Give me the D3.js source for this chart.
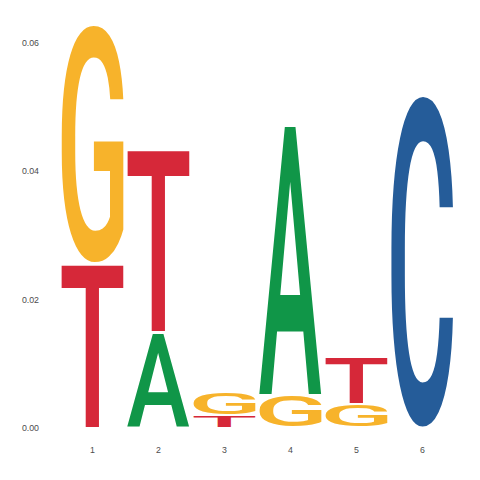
<!DOCTYPE html>
<html><head><meta charset="utf-8">
<script src="https://cdn.jsdelivr.net/npm/d3@7"></script>
<style>body{margin:0;background:#fff}</style>
</head><body>
<svg id="chart" width="480" height="480"></svg>
<script>
const positions = [1, 2, 3, 4, 5, 6];
const bases = ["A", "C", "G", "T"];
const valA = [0, 0.0149, 0, 0.04245, 0, 0];
const valC = [0, 0, 0, 0, 0, 0.05165];
const valG = [0.03706, 0, 0.0036, 0.0051, 0.0037, 0];
const valT = [0.02567, 0.02864, 0.0019, 0, 0.0074, 0];
const yTicks = [0, 0.02, 0.04, 0.06];
const colors = {A: "#109648", C: "#255C99", G: "#F7B32B", T: "#D62839"};

const series = {A: valA, C: valC, G: valG, T: valT};
const FAMILY = "Roboto";
const WEIGHT = 500;
const FONT = `${WEIGHT} 100px '${FAMILY}'`;

const svg = d3.select("#chart");
const x = d3.scaleBand().domain(positions).range([59.5, 455.5]).paddingInner(0.06).paddingOuter(0.03);
const y = d3.scaleLinear().domain([0, 0.06]).range([427.5, 43]);

// axes (text only)
const yAxis = svg.append("g").attr("transform", "translate(42,0)")
  .call(d3.axisLeft(y).tickValues(yTicks).tickFormat(d3.format(".2f")).tickSize(0).tickPadding(3));
const xAxis = svg.append("g").attr("transform", "translate(0,443)")
  .call(d3.axisBottom(x).tickSize(0).tickPadding(4));
[yAxis, xAxis].forEach(g => {
  g.select(".domain").remove();
  g.selectAll("text").attr("font-family", "'Liberation Sans', Arial, sans-serif").attr("font-size", 8.8).attr("fill", "#4D4D4D");
});

function draw() {
  // measure tight glyph bounds by scanning canvas pixels
  const S = 200;
  const cv = document.createElement("canvas");
  cv.width = S; cv.height = S;
  const ctx = cv.getContext("2d");
  ctx.font = FONT;
  const metrics = {};
  bases.forEach(b => {
    ctx.clearRect(0, 0, S, S);
    ctx.fillStyle = "#000";
    ctx.fillText(b, 50, 150);
    const data = ctx.getImageData(0, 0, S, S).data;
    let minX = S, maxX = -1, minY = S, maxY = -1;
    for (let yy = 0; yy < S; yy++) for (let xx = 0; xx < S; xx++) {
      if (data[(yy * S + xx) * 4 + 3] > 60) {
        if (xx < minX) minX = xx; if (xx > maxX) maxX = xx;
        if (yy < minY) minY = yy; if (yy > maxY) maxY = yy;
      }
    }
    metrics[b] = {l: 50 - minX, r: maxX + 1 - 50, a: 150 - minY, d: maxY + 1 - 150};
  });

  const stacks = [];
  positions.forEach((p, i) => {
    const items = bases.map(b => ({b, v: series[b][i]})).filter(d => d.v > 0).sort((a, b) => a.v - b.v);
    let cum = 0;
    items.forEach(d => { stacks.push({p, b: d.b, y0: cum, y1: cum + d.v}); cum += d.v; });
  });

  svg.append("g").selectAll("text.letter").data(stacks).join("text")
    .attr("class", "letter")
    .text(d => d.b)
    .attr("font-family", `'${FAMILY}'`)
    .attr("font-weight", WEIGHT)
    .attr("font-size", 100)
    .attr("fill", d => colors[d.b])
    .attr("transform", d => {
      const m = metrics[d.b];
      const bw = m.l + m.r, bh = m.a + m.d;
      const x0 = x(d.p), w = x.bandwidth();
      const top = y(d.y1) + 0.8, bot = y(d.y0) - 0.8;
      const h = Math.max(bot - top, 0.1);
      return `translate(${x0},${top}) scale(${w / bw},${h / bh}) translate(${m.l},${m.a})`;
    });
}
if (document.fonts && document.fonts.load) {
  document.fonts.load(FONT).then(draw, draw);
} else draw();
</script>
</body></html>
